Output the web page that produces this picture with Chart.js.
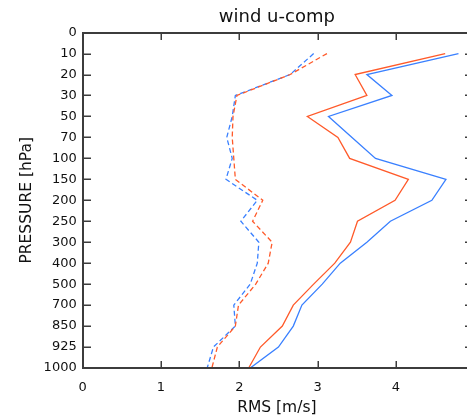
<!DOCTYPE html>
<html>
<head>
<meta charset="utf-8">
<script src="https://cdn.jsdelivr.net/npm/chart.js@4/dist/chart.umd.min.js"></script>
<style>
  html, body { margin: 0; padding: 0; background: #fff; overflow: hidden; }
  #wrap { width: 475px; height: 418px; }
</style>
</head>
<body>
<div id="wrap"><canvas id="chart"></canvas></div>
<script>
// pressure levels, top to bottom
const levels = ['0', '10', '20', '30', '50', '70', '100', '150', '200', '250', '300', '400', '500', '700', '850', '925', '1000'];
// RMS values for levels 10 .. 1000
const redSolid = [4.63, 3.48, 3.63, 2.87, 3.26, 3.41, 4.16, 3.99, 3.51, 3.42, 3.22, 2.95, 2.69, 2.55, 2.27, 2.12];
const blueSolid = [4.80, 3.63, 3.95, 3.14, 3.44, 3.74, 4.64, 4.46, 3.93, 3.63, 3.29, 3.06, 2.80, 2.69, 2.50, 2.14];
const redDashed = [3.12, 2.65, 1.97, 1.92, 1.91, 1.93, 1.95, 2.30, 2.17, 2.42, 2.37, 2.21, 1.99, 1.95, 1.72, 1.65];
const blueDashed = [2.95, 2.65, 1.95, 1.91, 1.84, 1.91, 1.83, 2.23, 2.02, 2.25, 2.23, 2.14, 1.93, 1.95, 1.67, 1.59];
const xTicks = [0, 1, 2, 3, 4];

const RED = '#ff5a2a';
const BLUE = '#3a80ff';
const AXIS = '#3c3c3c';

function toPoints(vals) {
  return vals.map((v, i) => ({ x: v, y: i + 1 }));
}

function ds(vals, color, dashed) {
  return {
    data: toPoints(vals),
    borderColor: color,
    borderWidth: 1.3,
    borderDash: dashed ? [5, 3] : [],
    pointRadius: 0,
    fill: false,
    tension: 0
  };
}

// frame + inward ticks like the original plot (filled rects, strokes didn't show up)
function drawFrame(chart) {
  const ctx = chart.ctx;
  const a = chart.chartArea;
  const sx = chart.scales.x, sy = chart.scales.y;
  const L = Math.round(a.left), R = Math.round(a.right);
  const T = Math.round(a.top), B = Math.round(a.bottom);
  ctx.save();
  ctx.fillStyle = AXIS;
  ctx.fillRect(L - 1, T - 1, R - L + 2, 2);
  ctx.fillRect(L - 1, B - 1, R - L + 2, 2);
  ctx.fillRect(L - 1, T - 1, 2, B - T + 2);
  ctx.fillRect(R - 1, T - 1, 2, B - T + 2);
  xTicks.forEach(t => {
    const px = Math.round(sx.getPixelForValue(t));
    ctx.fillRect(px - 0.5, B - 7, 1.5, 7);
    ctx.fillRect(px - 0.5, T, 1.5, 7);
  });
  levels.forEach((l, i) => {
    const py = Math.round(sy.getPixelForValue(i));
    ctx.fillRect(L, py - 0.5, 8, 1.5);
    ctx.fillRect(R - 6, py - 0.5, 6, 1.5);
  });
  ctx.restore();
}

Chart.register({
  id: 'idlFrame',
  afterDraw(chart) { drawFrame(chart); }
});

new Chart(document.getElementById('chart'), {
  type: 'line',
  data: {
    datasets: [
      ds(redSolid, RED, false),
      ds(blueSolid, BLUE, false),
      ds(redDashed, RED, true),
      ds(blueDashed, BLUE, true)
    ]
  },
  options: {
    responsive: true,
    maintainAspectRatio: false,
    animation: false,
    layout: { padding: { left: 0, right: 4, top: 0, bottom: 0 } },
    plugins: {
      legend: { display: false },
      tooltip: { enabled: false },
      title: {
        display: true,
        text: 'wind u-comp',
        fullSize: false,
        color: '#111',
        font: { family: 'DejaVu Sans', size: 18, weight: 'normal' },
        padding: { top: 7, bottom: 4 }
      }
    },
    scales: {
      x: {
        type: 'linear',
        min: 0,
        max: 4.96,
        grid: { display: false, drawTicks: false },
        border: { display: false },
        afterBuildTicks(scale) { scale.ticks = xTicks.map(v => ({ value: v })); },
        afterFit(scale) { scale.height = 50; },
        ticks: {
          color: '#111',
          padding: 12,
          maxRotation: 0,
          font: { family: 'DejaVu Sans', size: 13 },
          callback: v => String(v)
        },
        title: {
          display: true,
          text: 'RMS [m/s]',
          color: '#111',
          font: { family: 'DejaVu Sans', size: 15.5 },
          padding: { top: 0, bottom: 1 }
        }
      },
      y: {
        type: 'linear',
        reverse: true,
        min: 0,
        max: levels.length - 1,
        grid: { display: false, drawTicks: false },
        border: { display: false },
        afterBuildTicks(scale) { scale.ticks = levels.map((l, i) => ({ value: i })); },
        afterFit(scale) { scale.width = 82.7; },
        ticks: {
          color: '#111',
          padding: 6,
          font: { family: 'DejaVu Sans', size: 13 },
          callback: v => levels[v]
        },
        title: {
          display: true,
          text: 'PRESSURE [hPa]',
          color: '#111',
          font: { family: 'DejaVu Sans', size: 15.5 },
          padding: { top: 18, bottom: 0 }
        }
      }
    }
  }
});
</script>
</body>
</html>
